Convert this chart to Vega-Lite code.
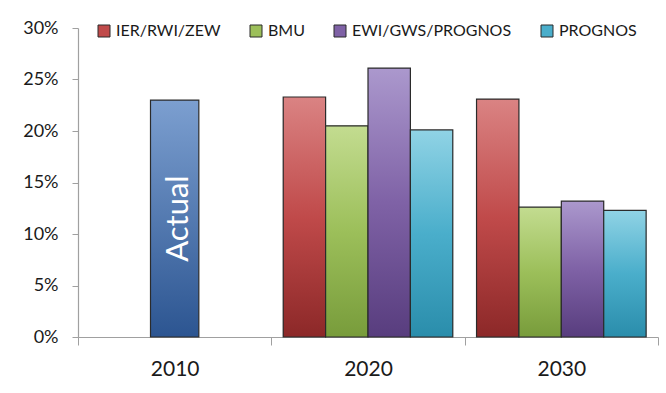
{
  "$schema": "https://vega.github.io/schema/vega-lite/v6.json",
  "width": 580,
  "height": 309,
  "autosize": "none",
  "padding": {"left": 78, "top": 28, "right": 8, "bottom": 56},
  "background": "white",
  "config": {
    "view": {"stroke": null},
    "font": "Lato",
    "axis": {"grid": false, "domainColor": "#a0a0a0", "tickColor": "#a0a0a0", "labelColor": "#1a1a1a", "titleColor": "#1a1a1a"}
  },
  "data": {"values": [
    {"year": "2010", "series": "Actual", "value": 23.0},
    {"year": "2020", "series": "IER/RWI/ZEW", "value": 23.3},
    {"year": "2020", "series": "BMU", "value": 20.5},
    {"year": "2020", "series": "EWI/GWS/PROGNOS", "value": 26.1},
    {"year": "2020", "series": "PROGNOS", "value": 20.1},
    {"year": "2030", "series": "IER/RWI/ZEW", "value": 23.1},
    {"year": "2030", "series": "BMU", "value": 12.6},
    {"year": "2030", "series": "EWI/GWS/PROGNOS", "value": 13.2},
    {"year": "2030", "series": "PROGNOS", "value": 12.3}
  ]},
  "encoding": {
    "x": {
      "field": "year", "type": "nominal",
      "scale": {"domain": ["2010", "2020", "2030"], "paddingInner": 0, "paddingOuter": 0},
      "axis": {"title": null, "labelAngle": 0, "labelFontSize": 21, "tickBand": "extent", "tickSize": 8, "labelPadding": 13, "domainWidth": 1.2}
    },
    "y": {
      "field": "value", "type": "quantitative",
      "scale": {"domain": [0, 30], "nice": false},
      "axis": {"title": null, "values": [0, 5, 10, 15, 20, 25, 30], "labelExpr": "datum.value + '%'", "labelFontSize": 18, "tickSize": 6, "labelPadding": 14, "domainWidth": 1.2}
    }
  },
  "layer": [
    {
      "transform": [{"filter": "datum.year == '2010'"}],
      "mark": {
        "type": "bar", "width": {"band": 0.25}, "stroke": "#2b2b2b", "strokeWidth": 1.2,
        "fill": {"gradient": "linear", "x1": 0, "y1": 0, "x2": 0, "y2": 1, "stops": [{"offset": 0, "color": "#7c9fd0"}, {"offset": 1, "color": "#2c5591"}]}
      }
    },
    {
      "transform": [{"filter": "datum.year != '2010'"}],
      "mark": {"type": "bar"},
      "encoding": {
        "xOffset": {"field": "series", "type": "nominal", "sort": ["IER/RWI/ZEW", "BMU", "EWI/GWS/PROGNOS", "PROGNOS"], "scale": {"paddingInner": 0, "paddingOuter": 0.28}},
        "color": {
          "field": "series", "type": "nominal",
          "scale": {
            "domain": ["IER/RWI/ZEW", "BMU", "EWI/GWS/PROGNOS", "PROGNOS"],
            "range": ["#c04a4a", "#9cbf5a", "#7f62a6", "#4aaecb"]
          },
          "legend": {
            "title": null, "orient": "none", "direction": "horizontal", "legendX": 18, "legendY": -5,
            "symbolType": "square", "symbolSize": 144, "symbolStrokeColor": "#2b2b2b", "symbolStrokeWidth": 1, "symbolOpacity": 1,
            "labelFontSize": 16, "labelColor": "#1a1a1a", "labelOffset": 4, "columnPadding": 27, "labelLimit": 300
          }
        }
      }
    },
    {
      "transform": [{"filter": "datum.year != '2010'"}],
      "mark": {"type": "bar", "stroke": "#2b2b2b", "strokeWidth": 1.2},
      "encoding": {
        "xOffset": {"field": "series", "type": "nominal", "sort": ["IER/RWI/ZEW", "BMU", "EWI/GWS/PROGNOS", "PROGNOS"]},
        "fill": {
          "condition": [
            {"test": "datum.series == 'IER/RWI/ZEW'", "value": {"gradient": "linear", "x1": 0, "y1": 0, "x2": 0, "y2": 1, "stops": [{"offset": 0, "color": "#da8383"}, {"offset": 0.5, "color": "#c04a4a"}, {"offset": 1, "color": "#8c2828"}]}},
            {"test": "datum.series == 'BMU'", "value": {"gradient": "linear", "x1": 0, "y1": 0, "x2": 0, "y2": 1, "stops": [{"offset": 0, "color": "#c3dc90"}, {"offset": 0.5, "color": "#9cbf5a"}, {"offset": 1, "color": "#789c3b"}]}},
            {"test": "datum.series == 'EWI/GWS/PROGNOS'", "value": {"gradient": "linear", "x1": 0, "y1": 0, "x2": 0, "y2": 1, "stops": [{"offset": 0, "color": "#ab98cd"}, {"offset": 0.5, "color": "#7f62a6"}, {"offset": 1, "color": "#583d7e"}]}}
          ],
          "value": {"gradient": "linear", "x1": 0, "y1": 0, "x2": 0, "y2": 1, "stops": [{"offset": 0, "color": "#90d3e5"}, {"offset": 0.5, "color": "#4aaecb"}, {"offset": 1, "color": "#2a8dab"}]}
        }
      }
    },
    {
      "transform": [{"filter": "datum.year == '2010'"}, {"calculate": "datum.value / 2", "as": "mid"}],
      "mark": {"type": "text", "angle": 270, "fontSize": 31, "color": "white", "align": "center", "baseline": "middle", "dy": 4},
      "encoding": {"y": {"field": "mid", "type": "quantitative"}, "text": {"value": "Actual"}}
    }
  ]
}
